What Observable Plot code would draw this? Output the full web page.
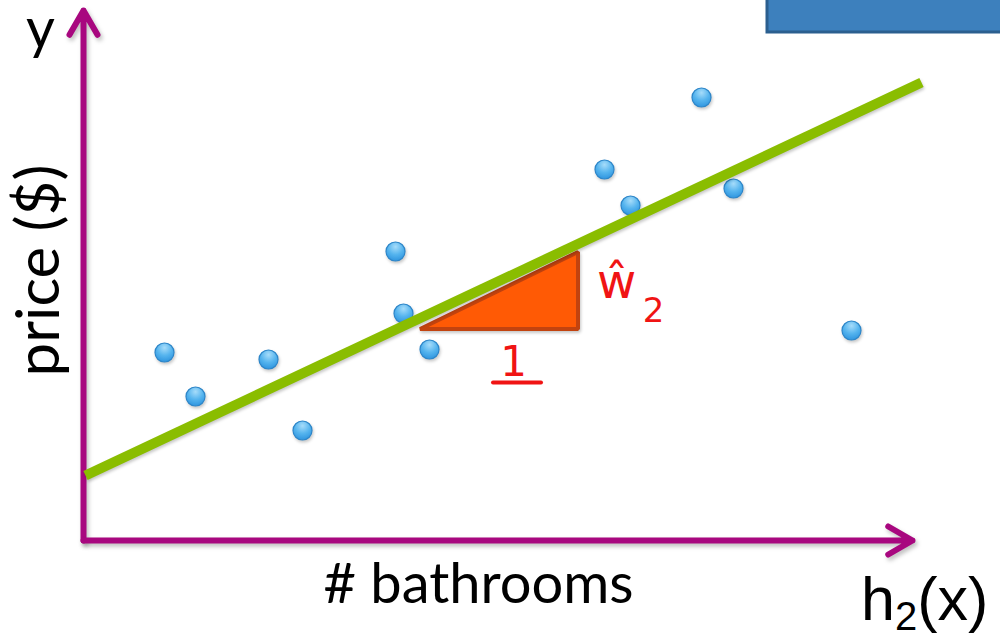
<!DOCTYPE html>
<html>
<head>
<meta charset="utf-8">
<script src="https://cdn.jsdelivr.net/npm/d3@7"></script>
<script src="https://cdn.jsdelivr.net/npm/@observablehq/plot@0.6"></script>
<style>
  html, body { margin: 0; padding: 0; background: #fff; }
  .shadow { filter: drop-shadow(2px 3px 2px rgba(0,0,0,0.25)); }
  .soft { filter: drop-shadow(1px 2px 1.5px rgba(0,0,0,0.22)); }
</style>
</head>
<body>
<div id="chart"></div>
<script>
// Houses: number of bathrooms vs. price (in $1000s)
const bathrooms = [0.81, 1.12, 1.85, 2.19, 3.12, 3.20, 3.46, 5.21, 5.47, 6.18, 6.50, 7.68];
const price     = [188,  144,  181,  110,  289,  227,  191,  371,  335,  443,  352,  210];

// Fitted line h2(x), end points
const fitX = [0.02, 8.38];
const fitY = [65, 458];

// Slope triangle: run of 1 step and rise ŵ2
const triX  = [3.37, 4.95];
const triY1 = [211, 211];
const triY2 = [211, 288];

// Axis ends (origin to arrow tips)
const axisX = [0, 8.29];
const axisY = [0, 530];

// Labels
const labelText = ["y", "price ($)", "# bathrooms", "ŵ", "2", "1"];

// Banner block in the top corner
const bannerX = [6.84, 9.40];
const bannerY = [508, 548];

const points = bathrooms.map((b, i) => ({x: b, y: price[i]}));
const fit = fitX.map((x, i) => ({x, y: fitY[i]}));
const tri = triX.map((x, i) => ({x, y1: triY1[i], y2: triY2[i]}));

const axisColor = "#a8077f";
const ink = "#f01414";
const sans = "Lato, 'Open Sans', sans-serif";
const hand = "'DejaVu Sans', sans-serif";

const plot = Plot.plot({
  width: 1000,
  height: 639,
  margin: 0,
  x: {domain: [-0.83, 9.17], axis: null},
  y: {domain: [-99, 540], axis: null},
  marks: [
    // banner block
    Plot.rect([{x1: bannerX[0], x2: bannerX[1], y1: bannerY[0], y2: bannerY[1]}], {
      x1: "x1", x2: "x2", y1: "y1", y2: "y2",
      fill: "#3d80bd", stroke: "#2b5f8f", strokeWidth: 3
    }),
    // axes with arrow heads
    Plot.arrow([{x1: axisX[0], y1: axisY[0], x2: axisX[0], y2: axisY[1]}], {
      x1: "x1", y1: "y1", x2: "x2", y2: "y2",
      stroke: axisColor, strokeWidth: 6, headLength: 7, headAngle: 60, className: "shadow"
    }),
    Plot.arrow([{x1: axisX[0], y1: axisY[0], x2: axisX[1], y2: axisY[0]}], {
      x1: "x1", y1: "y1", x2: "x2", y2: "y2",
      stroke: axisColor, strokeWidth: 6, headLength: 7, headAngle: 60, className: "shadow"
    }),
    // observations
    Plot.dot(points, {
      x: "x", y: "y", r: 9.5, fill: "url(#dotGrad)", stroke: "#2d86c9", strokeWidth: 1.2,
      className: "soft"
    }),
    // slope triangle
    Plot.areaY(tri, {
      x: "x", y1: "y1", y2: "y2",
      fill: "#ff5a05", stroke: "#c2430f", strokeWidth: 4, strokeLinejoin: "miter",
      className: "soft"
    }),
    // fitted line
    Plot.line(fit, {x: "x", y: "y", stroke: "#8abd00", strokeWidth: 10, strokeLinecap: "butt", className: "soft"}),
    // axis titles
    Plot.text([labelText[0]], {x: -0.43, y: 510, text: d => d, fontSize: 56, fill: "#000",
      fontFamily: sans, textAnchor: "middle"}),
    Plot.text([labelText[1]], {x: -0.44, y: 270, text: d => d, fontSize: 60, fill: "#000", rotate: -90,
      fontFamily: sans, textAnchor: "middle"}),
    Plot.text([labelText[2]], {x: 3.95, y: -45, text: d => d, fontSize: 56, fill: "#000",
      fontFamily: sans, textAnchor: "middle"}),
    // handwritten annotations of the slope
    Plot.text([labelText[3]], {x: 5.33, y: 258, text: d => d, fontSize: 48, fill: ink,
      fontFamily: hand, textAnchor: "middle"}),
    Plot.text([labelText[4]], {x: 5.70, y: 229, text: d => d, fontSize: 34, fill: ink,
      fontFamily: hand, textAnchor: "middle"}),
    Plot.text([labelText[5]], {x: 4.30, y: 178, text: d => d, fontSize: 42, fill: ink,
      fontFamily: hand, textAnchor: "middle"}),
    Plot.ruleY([158], {x1: 4.10, x2: 4.58, stroke: ink, strokeWidth: 4, strokeLinecap: "round"})
  ]
});

// radial gradient for the dots
const svg = d3.select(plot);
const defs = svg.insert("defs", ":first-child");
const g = defs.append("radialGradient").attr("id", "dotGrad")
  .attr("cx", "50%").attr("cy", "25%").attr("r", "75%");
g.append("stop").attr("offset", "0%").attr("stop-color", "#a6dcfa");
g.append("stop").attr("offset", "55%").attr("stop-color", "#55b4ee");
g.append("stop").attr("offset", "100%").attr("stop-color", "#2f95df");

// function label h2(x) with subscript
const svgText = svg.append("text")
  .attr("x", 861).attr("y", 620)
  .attr("text-anchor", "start")
  .attr("font-family", "'Liberation Sans', Arial, sans-serif")
  .attr("font-size", 61).attr("fill", "#000");
svgText.append("tspan").text("h");
svgText.append("tspan").attr("font-size", 40).attr("dy", 10).text("2");
svgText.append("tspan").attr("dy", -10).text("(x)");

document.getElementById("chart").appendChild(plot);
</script>
</body>
</html>
